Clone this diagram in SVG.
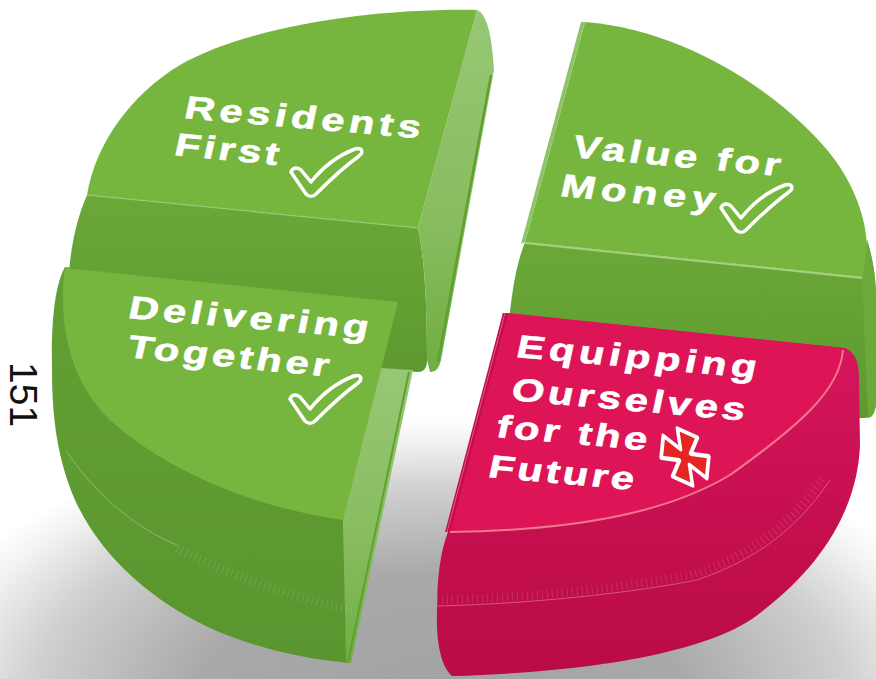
<svg xmlns="http://www.w3.org/2000/svg" width="876" height="679" viewBox="0 0 876 679">
  <defs>
    <radialGradient id="shadowGrad" gradientUnits="userSpaceOnUse" cx="440" cy="700" r="540" gradientTransform="translate(440 700) scale(1 0.52) translate(-440 -700)">
      <stop offset="0" stop-color="#a3a3a3"/>
      <stop offset="0.45" stop-color="#a9a9a9"/>
      <stop offset="0.75" stop-color="#cfcfcf"/>
      <stop offset="0.92" stop-color="#f2f2f2"/>
      <stop offset="1" stop-color="#ffffff"/>
    </radialGradient>
    <linearGradient id="greenFront" x1="0" y1="0" x2="0" y2="1">
      <stop offset="0" stop-color="#6aa938"/>
      <stop offset="1" stop-color="#5d9930"/>
    </linearGradient>
    <linearGradient id="greenSide" x1="0" y1="0" x2="0" y2="1">
      <stop offset="0" stop-color="#63a033"/>
      <stop offset="1" stop-color="#5a962f"/>
    </linearGradient>
    <linearGradient id="greenStrip" x1="0" y1="0" x2="0" y2="1">
      <stop offset="0" stop-color="#97c775"/>
      <stop offset="0.6" stop-color="#87bc5e"/>
      <stop offset="1" stop-color="#6fae42"/>
    </linearGradient>
    <linearGradient id="pinkSide" gradientUnits="userSpaceOnUse" x1="0" y1="380" x2="0" y2="676">
      <stop offset="0" stop-color="#d3145a"/>
      <stop offset="0.5" stop-color="#c50f4f"/>
      <stop offset="1" stop-color="#b90b47"/>
    </linearGradient>
    <!-- hollow tick mark, tip of the vee at the origin -->
    <path id="tick" d="M-22,-20 C-20,-25 -15,-25 -12,-22 L-2,-10 C10,-25 26,-37 42,-43 C49,-45 51,-40 46,-36 C28,-23 14,-9 3,2 C0,5 -4,5 -7,2 Z"/>
    <style>
      .lbl { font-family: "Liberation Sans", Arial, sans-serif; font-weight: 700; font-size: 32px; fill: #ffffff; stroke: #ffffff; stroke-width: 0.6; }
      .top { fill: #77b63e; }
      .pinkTop { fill: #dd1557; }
      .tickmark { stroke: #ffffff; stroke-width: 3.5; stroke-linejoin: round; fill: #77b63e; }
      .ticks { fill: none; stroke: #ffffff; stroke-width: 9; stroke-dasharray: 1 4; opacity: 0.13; }
      .rim { fill: none; stroke: #ffffff; stroke-width: 1; opacity: 0.3; }
    </style>
  </defs>

  <!-- background and floor shadow -->
  <g id="shadow">
    <rect x="0" y="0" width="876" height="679" fill="#ffffff"/>
    <rect x="0" y="0" width="876" height="679" fill="url(#shadowGrad)"/>
  </g>

  <!-- back-left slice -->
  <g id="residents-first">
    <path d="M87,195 L418,228 C423,250 427,290 427,360 Q427,372 418,372 L380,370 L68,300 C68,260 74,225 87,195 Z" fill="url(#greenFront)"/>
    <path d="M477,10 C487,14 492,35 494,70 L441,360 Q438,373 430,372 L427,360 C427,290 423,250 418,228 Z" fill="url(#greenStrip)"/>
    <path d="M491,75 L438,362" fill="none" stroke="#5fa130" stroke-width="2.5"/>
    <path class="top" d="M477,10 C380,8 250,25 180,65 C130,95 95,145 87,195 L418,228 Z"/>
    <path d="M87,195 L418,228" fill="none" stroke="#9ccd7a" stroke-width="1.5" opacity="0.6"/>
    <text class="lbl" transform="translate(183,118) rotate(4.9) skewX(-7) scale(1.3,1)" textLength="182" lengthAdjust="spacing">Residents</text>
    <text class="lbl" transform="translate(173,155) rotate(5.5) skewX(-7) scale(1.3,1)" textLength="80" lengthAdjust="spacing">First</text>
    <use href="#tick" class="tickmark" transform="translate(313,192)"/>
  </g>

  <!-- back-right slice -->
  <g id="value-for-money">
    <path d="M525,242 L862,277 L867,240 C874,262 876,282 876,300 L876,405 Q874,418 864,418 L858,418 L858,370 L508,330 C512,290 516,265 525,242 Z" fill="url(#greenFront)"/>
    <path d="M862,277 L867,240 C874,262 876,282 876,300 L876,405 Q874,418 868,418 Z" fill="#6aa93a"/>
    <path class="top" d="M585,22 C690,30 790,100 835,160 C858,192 867,225 867,250 L862,277 L525,242 Z"/>
    <path d="M581,22 L585,22 L525,242 L521,244 Z" fill="#8fc26a"/>
    <path d="M525,243 L862,278" fill="none" stroke="#a4d07f" stroke-width="2"/>
    <text class="lbl" transform="translate(571,157) rotate(5.2) skewX(-7) scale(1.3,1)" textLength="160" lengthAdjust="spacing">Value for</text>
    <text class="lbl" transform="translate(559,196) rotate(5.2) skewX(-7) scale(1.3,1)" textLength="119" lengthAdjust="spacing">Money</text>
    <use href="#tick" class="tickmark" transform="translate(743,228)"/>
  </g>

  <!-- front-left slice -->
  <g id="delivering-together">
    <path d="M65,267 C55,285 51,320 52,370 C52,420 58,460 75,500 C100,555 150,600 210,628 C255,648 300,658 348,663 L352,650 L343,520 L398,302 Z" fill="url(#greenSide)"/>
    <path d="M380,368 L413,370 L351,663 L346,662 L343,520 Z" fill="url(#greenStrip)"/>
    <path d="M409,372 L348,662" fill="none" stroke="#5fa130" stroke-width="2"/>
    <path class="top" d="M65,268 L398,302 L343,520 C240,505 160,465 110,420 C68,380 58,320 65,268 Z"/>
    <path d="M67,452 C100,500 140,530 177,545" class="rim"/>
    <path d="M177,548 C240,580 300,600 353,610" class="ticks"/>
    <text class="lbl" transform="translate(127,318) rotate(4.8) skewX(-7) scale(1.3,1)" textLength="185" lengthAdjust="spacing">Delivering</text>
    <text class="lbl" transform="translate(126,357) rotate(5.5) skewX(-7) scale(1.3,1)" textLength="155" lengthAdjust="spacing">Together</text>
    <use href="#tick" class="tickmark" transform="translate(312,419)"/>
  </g>

  <!-- front-right slice -->
  <g id="equipping-ourselves">
    <path d="M503,313 L845,348 C855,352 859,362 859,378 L860,445 C858,500 830,560 760,613 C715,650 600,672 452,676 C440,665 436,640 437,610 C437,575 441,550 448,532 Z" fill="url(#pinkSide)"/>
    <path d="M437,606 C520,604 620,595 697,580 C740,565 790,540 830,480" class="rim"/>
    <path d="M437,600 C520,598 620,589 695,574 C738,559 786,534 824,476" class="ticks"/>
    <path class="pinkTop" d="M508,313 L843,348 C840,390 800,425 730,475 C680,505 600,530 450,532 Z"/>
    <path d="M843,350 C840,390 800,425 730,475 C680,505 600,530 450,532" fill="none" stroke="#f2778f" stroke-width="2"/>
    <path d="M503,313 L508,313 L450,532 L445,532 Z" fill="#c10f4d"/>
    <path d="M505,313 L447,532" fill="none" stroke="#e8557f" stroke-width="1"/>
    <text class="lbl" transform="translate(515,357) rotate(5) skewX(-7) scale(1.3,1)" textLength="185" lengthAdjust="spacing">Equipping</text>
    <text class="lbl" transform="translate(510,400) rotate(5) skewX(-7) scale(1.3,1)" textLength="180" lengthAdjust="spacing">Ourselves</text>
    <text class="lbl" transform="translate(495,437) rotate(5) skewX(-7) scale(1.3,1)" textLength="116" lengthAdjust="spacing">for the</text>
    <text class="lbl" transform="translate(487,477) rotate(5) skewX(-7) scale(1.3,1)" textLength="112" lengthAdjust="spacing">Future</text>
    <!-- red cross with white outline -->
    <path transform="matrix(0.91 0.41 -0.1 1 685 457)" d="M5.5,-5.5 L25,-11 L25,11 L5.5,5.5 L11,24 L-11,24 L-5.5,5.5 L-25,11 L-25,-11 L-5.5,-5.5 L-11,-24 L11,-24 Z" fill="#e52424" stroke="#ffffff" stroke-width="4" stroke-linejoin="round"/>
  </g>

  <!-- page number -->
  <g id="page-number">
    <text transform="translate(10,362) rotate(90)" font-family="Liberation Sans, Arial, sans-serif" font-size="39" fill="#111111">151</text>
  </g>
</svg>
